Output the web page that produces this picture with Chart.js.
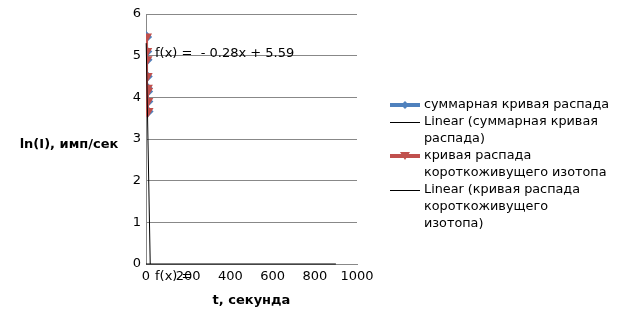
<!DOCTYPE html>
<html>
<head>
<meta charset="utf-8">
<script src="https://cdn.jsdelivr.net/npm/chart.js@4.4.0/dist/chart.umd.min.js"></script>
<style>
  html, body { margin: 0; padding: 0; background: #fff; }
  #wrap { width: 624px; height: 328px; }
</style>
</head>
<body>
<div id="wrap"><canvas id="myChart" width="624" height="328"></canvas></div>
<script>
// data
var sumT = [0, 1, 2, 3, 4, 5, 6, 7];
var sumLn = [5.45, 5.1, 4.9, 4.5, 4.22, 4.14, 3.9, 3.66];
var shortT = [0, 1, 2, 3, 4, 5, 6, 7];
var shortLn = [5.45, 5.1, 4.9, 4.5, 4.22, 4.14, 3.9, 3.66];
var sumTrendT = [0, 900];
var sumTrendLn = [0, 0];
var shortTrendT = [1, 20];
var shortTrendLn = [5.3, 0];
var xTicks = [0, 200, 400, 600, 800, 1000];
var yTicks = [0, 1, 2, 3, 4, 5, 6];

var legendItems = [
  { lines: ['суммарная кривая распада'], color: '#4F81BD', width: 4, marker: 'diamond' },
  { lines: ['Linear (суммарная кривая', 'распада)'], color: '#000', width: 1 },
  { lines: ['кривая распада', 'короткоживущего изотопа'], color: '#C0504D', width: 4, marker: 'tri' },
  { lines: ['Linear (кривая распада', 'короткоживущего', 'изотопа)'], color: '#000', width: 1 }
];

function pts(xs, ys) {
  return xs.map(function (x, i) { return { x: x, y: ys[i] }; });
}

var FONT = 'DejaVu Sans';

var extras = {
  id: 'extras',
  afterDraw: function (chart) {
    var c = chart.ctx;
    var xs = chart.scales.x;
    c.save();
    c.fillStyle = '#000';
    c.textBaseline = 'middle';

    // trendline equations
    c.font = '13px ' + FONT;
    c.textAlign = 'left';
    c.fillText('f(x) =  - 0.28x + 5.59', 155, 54);
    c.fillText('f(x) = ', 155, 277);

    // axis titles
    c.font = 'bold 13px ' + FONT;
    c.textAlign = 'center';
    c.fillText('ln(I), имп/сек', 69, 145);
    c.fillText('t, секунда', (xs.left + xs.right) / 2, 301);

    // legend
    c.font = '12.8px ' + FONT;
    c.textAlign = 'left';
    var y = 105;
    legendItems.forEach(function (it) {
      var ly = it.width === 1 ? y + 0.5 : y;
      c.strokeStyle = it.color;
      c.lineWidth = it.width;
      c.beginPath();
      c.moveTo(390, ly);
      c.lineTo(420, ly);
      c.stroke();
      c.fillStyle = it.color;
      if (it.marker === 'diamond') {
        c.beginPath();
        c.moveTo(405, y - 4); c.lineTo(409, y); c.lineTo(405, y + 4); c.lineTo(401, y);
        c.closePath(); c.fill();
      } else if (it.marker === 'tri') {
        c.beginPath();
        c.moveTo(400, y - 4); c.lineTo(410, y - 4); c.lineTo(405, y + 4);
        c.closePath(); c.fill();
      }
      c.fillStyle = '#000';
      it.lines.forEach(function (t, i) {
        c.fillText(t, 424, y + i * 17);
      });
      y += it.lines.length * 17;
    });
    c.restore();
  }
};

var ctx = document.getElementById('myChart').getContext('2d');

var myChart = new Chart(ctx, {
  type: 'scatter',
  data: {
    datasets: [
      {
        label: 'суммарная кривая распада',
        data: pts(sumT, sumLn),
        showLine: true,
        borderColor: '#4F81BD',
        backgroundColor: '#4F81BD',
        borderWidth: 3,
        pointStyle: 'rectRot',
        pointRadius: 4,
        order: 4
      },
      {
        label: 'Linear (суммарная кривая распада)',
        data: pts(sumTrendT, sumTrendLn),
        showLine: true,
        borderColor: '#000',
        borderWidth: 1,
        pointRadius: 0,
        clip: 4,
        order: 3
      },
      {
        label: 'кривая распада короткоживущего изотопа',
        data: pts(shortT, shortLn),
        showLine: true,
        borderColor: '#C0504D',
        backgroundColor: '#C0504D',
        borderWidth: 3,
        pointStyle: 'triangle',
        rotation: 180,
        pointRadius: 4,
        order: 2
      },
      {
        label: 'Linear (кривая распада короткоживущего изотопа)',
        data: pts(shortTrendT, shortTrendLn),
        showLine: true,
        borderColor: '#000',
        borderWidth: 1,
        pointRadius: 0,
        clip: 4,
        order: 1
      }
    ]
  },
  options: {
    responsive: false,
    animation: false,
    layout: { padding: { left: 0, right: 267, top: 14, bottom: 0 } },
    plugins: { legend: { display: false }, tooltip: { enabled: false } },
    scales: {
      x: {
        type: 'linear',
        min: 0, max: 1000,
        afterBuildTicks: function (s) { s.ticks = xTicks.map(function (v) { return { value: v }; }); },
        afterFit: function (s) { s.height = 64; },
        grid: { display: false, drawTicks: false },
        border: { color: '#888', width: 1 },
        ticks: {
          color: '#000', font: { family: FONT, size: 13 }, padding: 5, maxRotation: 0,
          callback: function (v) { return String(v); }
        }
      },
      y: {
        type: 'linear',
        min: 0, max: 6,
        afterBuildTicks: function (s) { s.ticks = yTicks.map(function (v) { return { value: v }; }); },
        afterFit: function (s) { s.width = 146; },
        grid: { color: '#888', drawTicks: false },
        border: { color: '#888', width: 1 },
        ticks: {
          color: '#000', font: { family: FONT, size: 13 }, padding: 5,
          callback: function (v) { return String(v); }
        }
      }
    }
  },
  plugins: [extras]
});
</script>
</body>
</html>
